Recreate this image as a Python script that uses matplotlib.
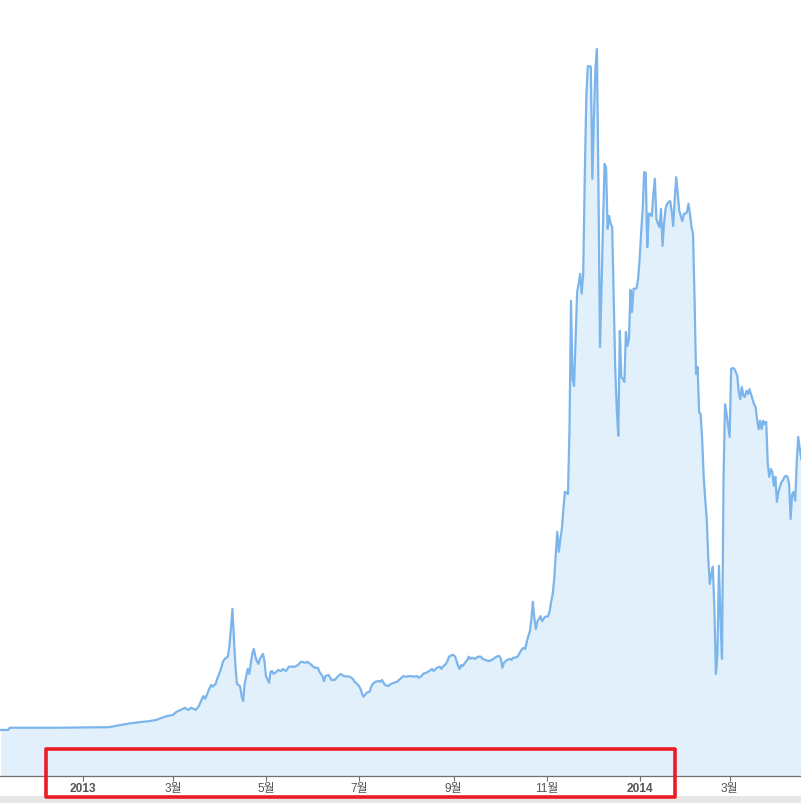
import pandas as pd
import matplotlib
matplotlib.use("Agg")
import matplotlib.pyplot as plt
import matplotlib.dates as mdates
from matplotlib.patches import Rectangle

# sparse readings up to mid October 2013
early_dates = [
    "2012-11-08", "2012-11-13", "2012-11-14", "2012-12-17", "2013-01-18", "2013-01-30",
    "2013-02-07", "2013-02-14", "2013-02-18", "2013-02-22", "2013-02-25", "2013-03-01",
    "2013-03-03", "2013-03-06", "2013-03-09", "2013-03-11", "2013-03-13", "2013-03-16",
    "2013-03-18", "2013-03-20", "2013-03-21", "2013-03-22", "2013-03-23", "2013-03-24",
    "2013-03-26", "2013-03-27", "2013-03-29", "2013-03-30", "2013-04-01", "2013-04-03",
    "2013-04-04", "2013-04-06", "2013-04-07", "2013-04-08", "2013-04-09", "2013-04-10",
    "2013-04-11", "2013-04-12", "2013-04-14", "2013-04-15", "2013-04-16", "2013-04-17",
    "2013-04-18", "2013-04-19", "2013-04-20", "2013-04-21", "2013-04-22", "2013-04-23",
    "2013-04-24", "2013-04-25", "2013-04-26", "2013-04-27", "2013-04-29", "2013-04-30",
    "2013-05-01", "2013-05-03", "2013-05-04", "2013-05-05", "2013-05-06", "2013-05-08",
    "2013-05-09", "2013-05-11", "2013-05-12", "2013-05-14", "2013-05-16", "2013-05-20",
    "2013-05-22", "2013-05-24", "2013-05-27", "2013-05-28", "2013-05-30", "2013-06-02",
    "2013-06-04", "2013-06-05", "2013-06-07", "2013-06-08", "2013-06-09", "2013-06-11",
    "2013-06-13", "2013-06-15", "2013-06-17", "2013-06-19", "2013-06-21", "2013-06-25",
    "2013-06-27", "2013-06-28", "2013-06-29", "2013-07-01", "2013-07-02", "2013-07-03",
    "2013-07-04", "2013-07-06", "2013-07-08", "2013-07-09", "2013-07-10", "2013-07-12",
    "2013-07-14", "2013-07-15", "2013-07-16", "2013-07-18", "2013-07-20", "2013-07-22",
    "2013-07-26", "2013-07-28", "2013-07-30", "2013-07-31", "2013-08-04", "2013-08-06",
    "2013-08-08", "2013-08-09", "2013-08-11", "2013-08-12", "2013-08-14", "2013-08-16",
    "2013-08-18", "2013-08-19", "2013-08-21", "2013-08-23", "2013-08-24", "2013-08-25",
    "2013-08-27", "2013-08-28", "2013-08-29", "2013-08-31", "2013-09-01", "2013-09-02",
    "2013-09-03", "2013-09-04", "2013-09-05", "2013-09-06", "2013-09-07", "2013-09-09",
    "2013-09-10", "2013-09-11", "2013-09-12", "2013-09-13", "2013-09-15", "2013-09-17",
    "2013-09-19", "2013-09-20", "2013-09-22", "2013-09-24", "2013-09-26", "2013-09-27",
    "2013-09-28", "2013-09-30", "2013-10-01", "2013-10-02", "2013-10-03", "2013-10-04",
    "2013-10-06", "2013-10-08", "2013-10-09", "2013-10-10", "2013-10-11", "2013-10-13",
    "2013-10-14", "2013-10-15", "2013-10-16",
]
early_prices = [
    13, 13, 17, 17, 18, 24,
    27, 29, 31, 35, 38, 40,
    45, 49, 53, 49, 53, 49,
    56, 69, 74, 69, 74, 82,
    94, 91, 96, 105, 119, 137,
    141, 145, 164, 195, 231, 177,
    127, 96, 92, 74, 65, 96,
    110, 123, 114, 132, 150, 159,
    146, 137, 132, 141, 150, 137,
    110, 98, 118, 119, 114, 118,
    121, 119, 123, 119, 127, 127,
    130, 136, 134, 136, 132, 125,
    125, 118, 110, 101, 110, 112,
    103, 103, 109, 114, 110, 109,
    105, 100, 98, 92, 87, 78,
    73, 80, 82, 91, 96, 100,
    101, 100, 103, 94, 92, 96,
    100, 105, 110, 109, 110, 109,
    110, 107, 110, 114, 116, 119,
    123, 119, 125, 127, 123, 127,
    132, 137, 145, 148, 148, 145,
    137, 128, 123, 130, 128, 136,
    139, 145, 141, 143, 141, 145,
    145, 141, 139, 137, 139, 141,
    143, 146, 146, 141, 125, 134,
    139, 141, 139, 143, 143, 145,
    150, 155, 159,
]

# daily readings from 2013-10-17 on
daily_start = "2013-10-17"
daily_prices = [
    161, 159, 172, 182, 190, 213, 244, 213, 195, 209, 213, 218, 209, 213, 217,
    217, 218, 227, 244, 258, 285, 330, 370, 334, 357, 375, 411, 442, 440, 438,
    555, 786, 645, 633, 718, 802, 817, 835, 799, 835, 1006, 1150, 1209, 1209, 1208,
    1006, 1114, 1204, 1240, 988, 703, 808, 925, 1033, 1027, 916, 939, 925, 919, 790,
    664, 591, 543, 732, 649, 645, 640, 730, 705, 718, 806, 766, 808, 808, 809, 826,
    862, 910, 952, 1018, 1017, 883, 943, 943, 939, 979, 1006, 934, 925, 919, 952,
    885, 925, 952, 961, 964, 966, 948, 921, 970, 1009, 979, 948, 939, 930, 943, 943,
    946, 961, 943, 919, 907, 790, 654, 667, 586, 582, 537, 469, 429, 393, 321,
    276, 294, 307, 231, 114, 150, 309, 213, 141, 465, 600, 582, 561,
    541, 664, 665, 664, 658, 651, 622, 609, 631, 615, 613, 624, 618, 627, 618,
    609, 600, 595, 573, 555, 570, 555, 570, 564, 568, 492, 469, 483, 478, 453, 469,
    424, 442, 451, 460, 463, 469, 471, 469, 456, 393, 438, 442, 426, 496, 541, 519, 501,
]

tick_dates = ["2013-01-01", "2013-03-01", "2013-05-01", "2013-07-01", "2013-09-01",
              "2013-11-01", "2014-01-01", "2014-03-01"]
tick_labels = ["2013", "3월", "5월", "7월", "9월", "11월", "2014", "3월"]
bold_labels = ["2013", "2014"]

dates = list(pd.to_datetime(early_dates)) + list(pd.date_range(daily_start, periods=len(daily_prices), freq="D"))
prices = early_prices + daily_prices

W, H = 801, 804
fig = plt.figure(figsize=(W / 100, H / 100), dpi=100)
ax = fig.add_axes([0, 27 / H, 1, 777 / H])

ymin, ymax = -70, 1330
ax.fill_between(dates, prices, ymin, color="#e1f0fa", linewidth=0)
ax.plot(dates, prices, color="#7cb5ec", linewidth=1.6)

t0 = pd.Timestamp("2013-01-01")
ax.set_xlim(mdates.date2num(t0 - pd.Timedelta(days=54.4)), mdates.date2num(t0 + pd.Timedelta(days=470.8)))
ax.set_ylim(ymin, ymax)

for s in ["top", "left", "right"]:
    ax.spines[s].set_visible(False)
ax.spines["bottom"].set_color("#707070")
ax.spines["bottom"].set_linewidth(0.9)
ax.set_yticks([])

ax.set_xticks(pd.to_datetime(tick_dates))
ax.set_xticklabels(tick_labels)
ax.tick_params(axis="x", length=3.8, width=0.8, color="#707070", pad=0.6,
               labelsize=8.6, labelcolor="#555555")
for lab in ax.get_xticklabels():
    lab.set_family(["Liberation Sans", "Noto Sans CJK KR", "DejaVu Sans"])
    if lab.get_text() in bold_labels:
        lab.set_fontweight("bold")

# grey strip along the bottom edge
fig.patches.append(Rectangle((0, 0), 1, 7 / H, transform=fig.transFigure,
                             facecolor="#e6e6e6", edgecolor="none", zorder=0))

# red highlight box round the axis labels
x0, x1 = 45.8 / W, 675.3 / W
y0, y1 = (H - 797.5) / H, (H - 750) / H
fig.patches.append(Rectangle((x0, y0), x1 - x0, y1 - y0, transform=fig.transFigure,
                             facecolor="none", edgecolor="#ec1c24", linewidth=2.6,
                             joinstyle="round", zorder=10))

fig.savefig("out.png", dpi=100)
